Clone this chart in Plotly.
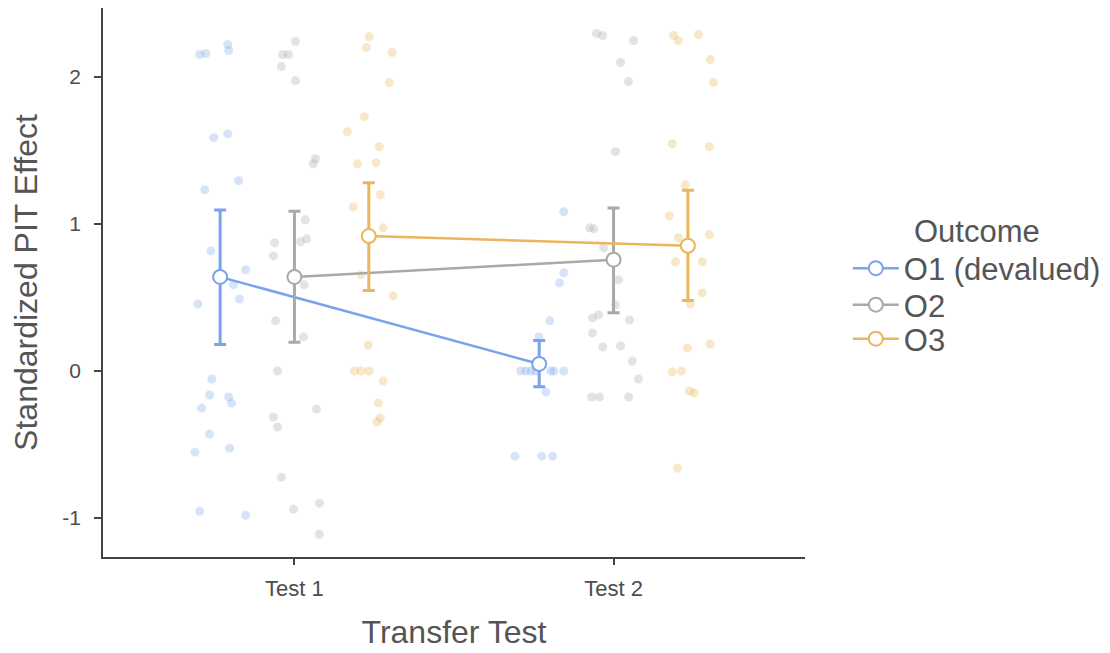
import plotly.graph_objects as go

# ---------------- data ----------------
outcomes = ["O1 (devalued)", "O2", "O3"]
tests = ["Test 1", "Test 2"]
test_pos = [1, 2]

# jittered individual points (x position, value)
o1_t1_x = [0.703, 0.722, 0.791, 0.794, 0.747, 0.791, 0.825, 0.719, 0.738, 0.847, 0.809, 0.828, 0.697,
           0.741, 0.734, 0.794, 0.803, 0.709, 0.734, 0.688, 0.797, 0.703, 0.847]
o1_t1_y = [2.153, 2.159, 2.221, 2.180, 1.587, 1.614, 1.294, 1.233, 0.817, 0.688, 0.586, 0.490, 0.456,
           -0.054, -0.163, -0.177, -0.218, -0.252, -0.429, -0.552, -0.525, -0.954, -0.981]
o2_t1_x = [1.003, 0.963, 0.981, 0.959, 1.003, 1.059, 1.066, 1.034, 0.938, 1.019, 1.038, 0.934, 1.031,
           0.941, 1.028, 0.947, 1.069, 0.934, 0.947, 0.959, 0.997, 1.078, 1.078]
o2_t1_y = [2.241, 2.153, 2.153, 2.071, 1.975, 1.410, 1.444, 1.029, 0.872, 0.879, 0.899, 0.783, 0.586,
           0.341, 0.232, 0.0, -0.259, -0.313, -0.381, -0.722, -0.940, -0.899, -1.110]
o3_t1_x = [1.234, 1.225, 1.306, 1.297, 1.219, 1.166, 1.266, 1.197, 1.256, 1.269, 1.184, 1.278, 1.209,
           1.309, 1.231, 1.188, 1.209, 1.234, 1.278, 1.263, 1.269, 1.259]
o3_t1_y = [2.275, 2.200, 2.166, 1.962, 1.730, 1.628, 1.526, 1.410, 1.417, 1.199, 1.117, 0.974, 0.654,
           0.511, 0.177, 0.0, 0.0, 0.0, -0.068, -0.218, -0.320, -0.347]
o1_t2_x = [1.844, 1.844, 1.831, 1.800, 1.766, 1.709, 1.725, 1.741, 1.756, 1.803, 1.813, 1.844, 1.788,
           1.691, 1.775, 1.809]
o1_t2_y = [1.083, 0.668, 0.599, 0.341, 0.232, 0.0, 0.0, 0.0, 0.0, 0.0, 0.0, 0.0, -0.143,
           -0.579, -0.579, -0.579]
o2_t2_x = [1.947, 1.966, 2.063, 2.022, 2.047, 2.006, 1.925, 1.938, 1.969, 2.016, 2.006, 1.934, 1.953,
           1.934, 2.050, 1.966, 2.022, 2.059, 2.078, 1.931, 1.956, 2.047]
o2_t2_y = [2.296, 2.282, 2.248, 2.098, 1.969, 1.492, 0.974, 0.967, 0.838, 0.620, 0.450, 0.361, 0.381,
           0.259, 0.347, 0.163, 0.170, 0.068, -0.054, -0.177, -0.177, -0.177]
o3_t2_x = [2.188, 2.203, 2.266, 2.303, 2.313, 2.184, 2.300, 2.225, 2.175, 2.300, 2.203, 2.194, 2.278,
           2.278, 2.241, 2.303, 2.231, 2.184, 2.213, 2.238, 2.253, 2.200]
o3_t2_y = [2.282, 2.248, 2.289, 2.119, 1.962, 1.546, 1.526, 1.267, 1.056, 0.926, 0.906, 0.743, 0.743,
           0.531, 0.456, 0.184, 0.157, -0.007, 0.0, -0.136, -0.150, -0.661]

# group means and error-bar limits, per outcome: [Test 1, Test 2]
o1_mean = [0.640, 0.048]
o1_low = [0.180, -0.107]
o1_high = [1.095, 0.207]
o2_mean = [0.640, 0.757]
o2_low = [0.195, 0.397]
o2_high = [1.087, 1.109]
o3_mean = [0.918, 0.852]
o3_low = [0.547, 0.479]
o3_high = [1.280, 1.229]

# ---------------- style ----------------
colors = ["#79a3ec", "#a9a9a9", "#ebb65a"]
point_colors = ["rgba(121,163,236,0.30)", "rgba(169,169,169,0.33)", "rgba(235,182,90,0.33)"]
dodge = [-0.233, 0.0, 0.233]
FONT = "Liberation Sans, Arial, sans-serif"
legend_names = ["legend", "legend2", "legend3"]

points = [
    (o1_t1_x + o1_t2_x, o1_t1_y + o1_t2_y),
    (o2_t1_x + o2_t2_x, o2_t1_y + o2_t2_y),
    (o3_t1_x + o3_t2_x, o3_t1_y + o3_t2_y),
]
means = [
    (o1_mean, o1_low, o1_high),
    (o2_mean, o2_low, o2_high),
    (o3_mean, o3_low, o3_high),
]

fig = go.Figure()

for i, (px, py) in enumerate(points):
    fig.add_trace(go.Scatter(
        x=px, y=py, mode="markers", showlegend=False, hoverinfo="skip",
        marker=dict(size=9, color=point_colors[i], line=dict(width=0)),
    ))

for i, (m, lo, hi) in enumerate(means):
    xs = [t + dodge[i] for t in test_pos]
    fig.add_trace(go.Scatter(
        x=xs, y=m, mode="lines+markers", name=outcomes[i], legend=legend_names[i],
        line=dict(color=colors[i], width=2.5),
        marker=dict(size=14, color="white", line=dict(color=colors[i], width=2)),
        error_y=dict(type="data", symmetric=False,
                     array=[h - v for h, v in zip(hi, m)],
                     arrayminus=[v - l for v, l in zip(m, lo)],
                     color=colors[i], thickness=3, width=6),
    ))

leg_common = dict(font=dict(size=31, color="#555555"), xanchor="left", x=1.061,
                  bgcolor="rgba(0,0,0,0)", itemwidth=46)

fig.update_layout(
    width=1102, height=645,
    margin=dict(l=95, r=305, t=0, b=96),
    plot_bgcolor="white", paper_bgcolor="white",
    font=dict(family=FONT, color="#4d4d4d"),
    showlegend=True,
    legend=dict(
        title=dict(text="Outcome", side="top center", font=dict(size=31, color="#555555")),
        y=0.648, yanchor="top", **leg_common,
    ),
    legend2=dict(y=0.459, yanchor="middle", **leg_common),
    legend3=dict(y=0.397, yanchor="middle", **leg_common),
    xaxis=dict(
        range=[0.4, 2.6], tickvals=test_pos, ticktext=tests,
        showgrid=False, zeroline=False, showline=True, linecolor="#444444", linewidth=1.5,
        ticks="outside", ticklen=6, tickwidth=1.5, tickcolor="#444444",
        tickfont=dict(size=22, color="#4d4d4d"), ticklabelstandoff=5,
        title=dict(text="Transfer Test", font=dict(size=32, color="#555555"), standoff=20),
    ),
    yaxis=dict(
        range=[-1.265, 2.469], tickvals=[-1, 0, 1, 2], ticktext=["-1", "0", "1", "2"],
        showgrid=False, zeroline=False, showline=True, linecolor="#444444", linewidth=1.5,
        ticks="outside", ticklen=7, tickwidth=1.5, tickcolor="#444444",
        tickfont=dict(size=21, color="#4d4d4d"), ticklabelstandoff=9,
        title=dict(text="Standardized PIT Effect", font=dict(size=32, color="#555555"), standoff=16),
    ),
)

fig.write_html("out.html")
